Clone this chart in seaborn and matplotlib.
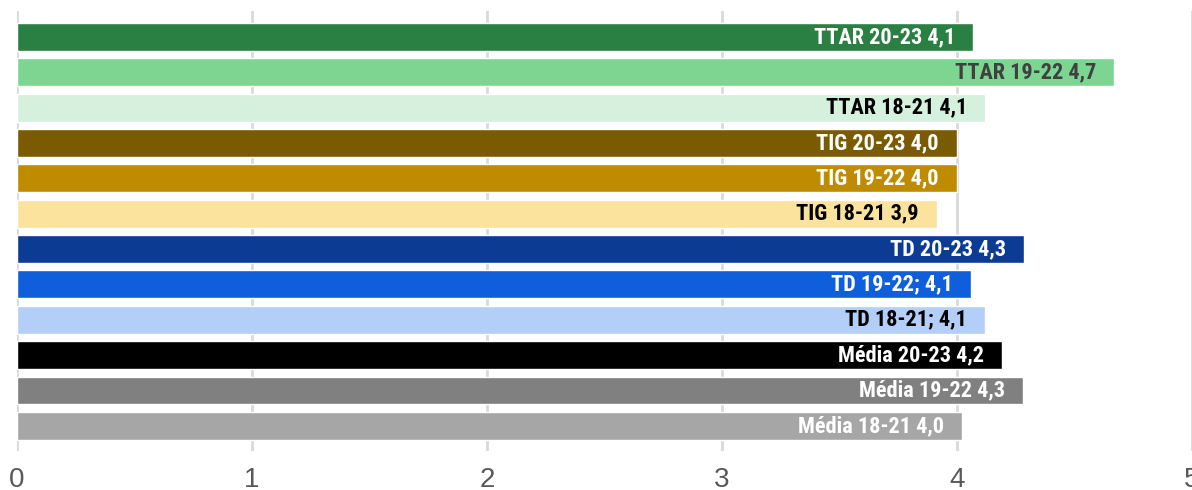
import matplotlib
matplotlib.use("Agg")
import matplotlib.pyplot as plt
import seaborn as sns
import pandas as pd

# Dados do gráfico (de cima para baixo)
categorias = ["TTAR 20-23", "TTAR 19-22", "TTAR 18-21",
              "TIG 20-23", "TIG 19-22", "TIG 18-21",
              "TD 20-23", "TD 19-22", "TD 18-21",
              "Média 20-23", "Média 19-22", "Média 18-21"]
valores = [4.07, 4.67, 4.12, 4.00, 4.00, 3.915,
           4.285, 4.06, 4.12, 4.19, 4.28, 4.02]
rotulos = ["TTAR 20-23 4,1", "TTAR 19-22 4,7", "TTAR 18-21 4,1",
           "TIG 20-23 4,0", "TIG 19-22 4,0", "TIG 18-21 3,9",
           "TD 20-23 4,3", "TD 19-22; 4,1", "TD 18-21; 4,1",
           "Média 20-23 4,2", "Média 19-22 4,3", "Média 18-21 4,0"]
cores = ["#2A7F42", "#7CD692", "#D5F0DC",
         "#7B5B02", "#BF8B00", "#FBE39D",
         "#0B3B93", "#0F5EDB", "#B3CEF7",
         "#000000", "#808080", "#A6A6A6"]
cores_texto = ["white", "#404040", "black",
               "white", "white", "black",
               "white", "white", "black",
               "white", "white", "white"]
ticks_x = [0, 1, 2, 3, 4, 5]

df = pd.DataFrame({"cat": categorias, "val": valores})

sns.set_style("white")
plt.rcParams["font.family"] = ["Liberation Sans", "DejaVu Sans"]

fig = plt.figure(figsize=(11.92, 4.9), dpi=100)
ax = fig.add_axes([16.7 / 1192, 1 - 451 / 490, 1175.3 / 1192, 440 / 490])

sns.barplot(data=df, x="val", y="cat", hue="cat", palette=cores,
            orient="h", width=0.79, saturation=1, legend=False, ax=ax,
            zorder=3)

# Grade vertical
ax.set_xlim(0, 5)
ax.set_ylim(len(categorias) - 1 + 0.71, -0.73)
ax.set_xticks(ticks_x)
ax.grid(axis="x", color="#D9D9D9", linewidth=2, zorder=0)
ax.set_axisbelow(True)
for s in ax.spines.values():
    s.set_visible(False)

ax.set_xticklabels([str(t) for t in ticks_x], fontsize=20, color="#595959")
ax.tick_params(axis="x", length=0, pad=11.5)
ax.set_yticks([])
ax.set_xlabel("")
ax.set_ylabel("")

# Rótulos dentro das barras
fonte_rotulo = ["Liberation Sans Narrow", "Roboto Condensed",
                "Liberation Sans", "DejaVu Sans"]
for i, (v, txt, c) in enumerate(zip(valores, rotulos, cores_texto)):
    ax.annotate(txt, xy=(v, i), xytext=(-13, 0), textcoords="offset points",
                ha="right", va="center", fontsize=16, fontweight="bold",
                color=c, family=fonte_rotulo, zorder=4)

plt.savefig("out.png", dpi=100)
